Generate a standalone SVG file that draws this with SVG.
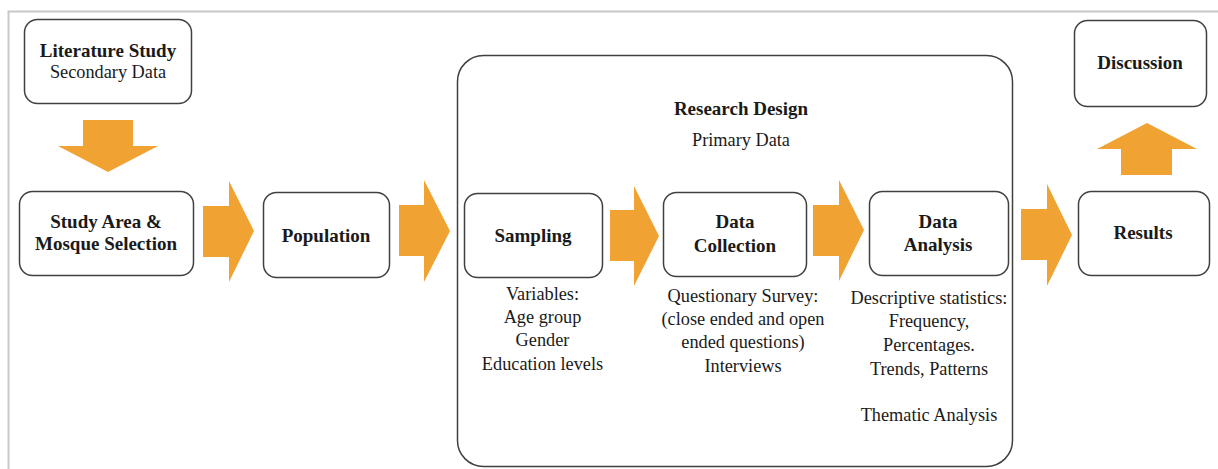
<svg xmlns="http://www.w3.org/2000/svg" width="1218" height="469" viewBox="0 0 1218 469">
<style>
.box{fill:#fff;stroke:#404040;stroke-width:1.5}
.arr{fill:#F0A332}
text{font-family:"Liberation Serif","Times New Roman",serif;fill:#1a1a1a;text-anchor:middle}
.b{font-weight:bold;font-size:19px}
.r{font-size:18.3px}
</style>
<rect width="1218" height="469" fill="#fff"/>
<path d="M8.5 469 V11.5 H1218" fill="none" stroke="#c8c8c8" stroke-width="2"/>
<g id="research-design">
<rect class="box" x="457.5" y="55.5" width="555" height="411" rx="26"/>
<text class="b" x="741" y="115">Research Design</text>
<text class="r" x="741" y="146">Primary Data</text>
</g>
<g id="connectors">
<polygon class="arr" points="83,120 133,120 133,146 158,146 108,172 58,146 83,146"/>
<polygon class="arr" points="203,206 229,206 229,181 254,231 229,282 229,257 203,257"/>
<polygon class="arr" points="399,205 424,205 424,180 450,231 424,282 424,256 399,256"/>
<polygon class="arr" points="610,210 634,210 634,186 659,236 634,286 634,261 610,261"/>
<polygon class="arr" points="813,205 839,205 839,180 864,230 839,281 839,256 813,256"/>
<polygon class="arr" points="1021,209 1047,209 1047,184 1072,235 1047,286 1047,260 1021,260"/>
<polygon class="arr" points="1121,175 1172,175 1172,149 1197,149 1147,123 1097,149 1121,149"/>
</g>
<g id="literature-study">
<rect class="box" x="24.5" y="19.5" width="167" height="84" rx="13"/>
<text class="b" x="108" y="57">Literature Study</text>
<text class="r" x="108" y="78">Secondary Data</text>
</g>
<g id="study-area">
<rect class="box" x="19.5" y="191.5" width="174" height="84" rx="13"/>
<text class="b" x="106" y="228">Study Area &amp;</text>
<text class="b" x="106" y="250">Mosque Selection</text>
</g>
<g id="population">
<rect class="box" x="263.5" y="192.5" width="126" height="85" rx="13"/>
<text class="b" x="326" y="242">Population</text>
</g>
<g id="sampling">
<rect class="box" x="464.5" y="193.5" width="138" height="84" rx="13"/>
<text class="b" x="533" y="242">Sampling</text>
<text class="r" x="542.5" y="300">Variables:</text>
<text class="r" x="542.5" y="323">Age group</text>
<text class="r" x="542.5" y="346">Gender</text>
<text class="r" x="542.5" y="370">Education levels</text>
</g>
<g id="data-collection">
<rect class="box" x="663.5" y="192.5" width="143" height="84" rx="13"/>
<text class="b" x="735" y="228">Data</text>
<text class="b" x="735" y="252">Collection</text>
<text class="r" x="743" y="302">Questionary Survey:</text>
<text class="r" x="743" y="325">(close ended and open</text>
<text class="r" x="743" y="348">ended questions)</text>
<text class="r" x="743" y="372">Interviews</text>
</g>
<g id="data-analysis">
<rect class="box" x="869.5" y="191.5" width="139" height="84" rx="13"/>
<text class="b" x="938" y="228">Data</text>
<text class="b" x="938" y="251">Analysis</text>
<text class="r" x="929" y="304">Descriptive statistics:</text>
<text class="r" x="929" y="327">Frequency,</text>
<text class="r" x="929" y="351">Percentages.</text>
<text class="r" x="929" y="375">Trends, Patterns</text>
<text class="r" x="929" y="421">Thematic Analysis</text>
</g>
<g id="results">
<rect class="box" x="1078.5" y="191.5" width="131" height="84" rx="13"/>
<text class="b" x="1143" y="239">Results</text>
</g>
<g id="discussion">
<rect class="box" x="1074.5" y="20.5" width="132" height="86" rx="13"/>
<text class="b" x="1140" y="69">Discussion</text>
</g>
</svg>
